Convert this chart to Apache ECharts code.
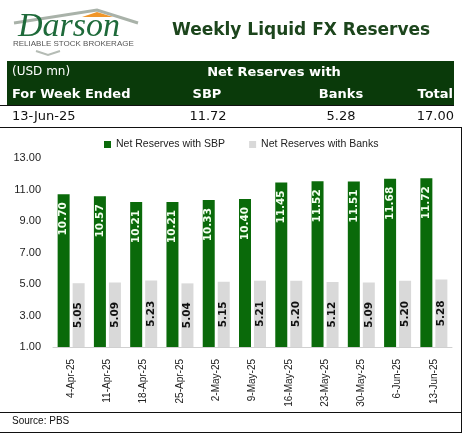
<!DOCTYPE html>
<html>
<head>
<meta charset="utf-8">
<script src="https://cdn.jsdelivr.net/npm/echarts@6/dist/echarts.min.js"></script>
<style>
html,body{margin:0;padding:0;background:#fff;}
#chart{width:464px;height:434px;}
</style>
</head>
<body>
<div id="chart"></div>
<script>
var categories = ['4-Apr-25','11-Apr-25','18-Apr-25','25-Apr-25','2-May-25','9-May-25','16-May-25','23-May-25','30-May-25','6-Jun-25','13-Jun-25'];
var sbpValues = [10.70,10.57,10.21,10.21,10.33,10.40,11.45,11.52,11.51,11.68,11.72];
var banksValues = [5.05,5.09,5.23,5.04,5.15,5.21,5.20,5.12,5.09,5.20,5.28];
var seriesNames = ['Net Reserves with SBP','Net Reserves with Banks'];
var yTicks = [1,3,5,7,9,11,13];
var latestWeek = '13-Jun-25';
var latestSBP = '11.72';
var latestBanks = '5.28';
var latestTotal = '17.00';

var GREEN = '#0a6a0a';
var DARK = '#0a3a0a';
var GRAY = '#d9d9d9';

var chart = echarts.init(document.getElementById('chart'));
var option = {
  backgroundColor: '#ffffff',
  animation: false,
  legend: {
    left: 99, top: 134,
    itemWidth: 7, itemHeight: 7, itemGap: 24,
    icon: 'rect',
    textStyle: {fontFamily: 'Liberation Sans', fontSize: 10.5, color: '#222'},
    data: seriesNames
  },
  grid: {left: 53, right: 12, top: 158, bottom: 87, containLabel: false},
  xAxis: {
    type: 'category', data: categories,
    axisLine: {lineStyle: {color: '#d0d0d0', width: 1}},
    axisTick: {show: false},
    axisLabel: {rotate: 90, fontFamily: 'Liberation Sans', fontSize: 10, color: '#222', margin: 12, interval: 0}
  },
  yAxis: {
    type: 'value', min: yTicks[0], max: yTicks[yTicks.length-1], interval: 2,
    splitLine: {show: false},
    axisLine: {show: false}, axisTick: {show: false},
    axisLabel: {fontFamily: 'Liberation Sans', fontSize: 11, color: '#222', margin: 12,
      formatter: function(v){return v.toFixed(2);}}
  },
  series: [
    {
      name: seriesNames[0], type: 'bar', data: sbpValues, barWidth: 12, barGap: '25%',
      itemStyle: {color: GREEN},
      label: {show: true, position: 'insideTop', distance: 8, rotate: 90, align: 'right', verticalAlign: 'middle',
        fontFamily: 'DejaVu Sans', fontWeight: 'bold', fontSize: 10.5, color: '#f4fff0',
        formatter: function(p){return p.value.toFixed(2);}}
    },
    {
      name: seriesNames[1], type: 'bar', data: banksValues, barWidth: 12,
      itemStyle: {color: GRAY},
      label: {show: true, position: 'inside', rotate: 90, align: 'center', verticalAlign: 'middle',
        fontFamily: 'DejaVu Sans', fontWeight: 'bold', fontSize: 10.5, color: '#111',
        formatter: function(p){return p.value.toFixed(2);}}
    }
  ],
  graphic: [
    // logo
    {type: 'polyline', shape: {points: [[14,23],[97,10],[138,23]]}, style: {stroke: '#a9b2a9', lineWidth: 3, fill: null}},
    {type: 'polygon', shape: {points: [[82,17],[97,12],[113,17]]}, style: {fill: '#f0962a'}},
    {type: 'text', left: 18, top: 10, style: {text: 'Darson', font: 'italic 34px "Liberation Serif"', fill: '#1e6a3a'}},
    {type: 'text', left: 13, top: 40, style: {text: 'RELIABLE STOCK BROKERAGE', font: '8px "Liberation Sans"', fill: '#555'}},
    {type: 'polyline', shape: {points: [[36,51],[48,55],[60,51]]}, style: {stroke: '#b5bcb5', lineWidth: 2, fill: null}},
    // title
    {type: 'text', x: 172, y: 31, style: {text: 'Weekly Liquid FX Reserves', font: 'bold 17px "DejaVu Sans"', fill: '#1c451c', textVerticalAlign: 'middle'}},
    // header band
    {type: 'rect', shape: {x: 7, y: 61, width: 447, height: 44}, style: {fill: DARK}},
    {type: 'text', x: 12, y: 72, style: {text: '(USD mn)', font: '12px "DejaVu Sans"', fill: '#fff', textVerticalAlign: 'middle'}},
    {type: 'text', x: 274, y: 73, style: {text: 'Net Reserves with', font: 'bold 13px "DejaVu Sans"', fill: '#fff', textAlign: 'center', textVerticalAlign: 'middle'}},
    {type: 'text', x: 12, y: 95, style: {text: 'For Week Ended', font: 'bold 13px "DejaVu Sans"', fill: '#fff', textVerticalAlign: 'middle'}},
    {type: 'text', x: 207, y: 95, style: {text: 'SBP', font: 'bold 13px "DejaVu Sans"', fill: '#fff', textAlign: 'center', textVerticalAlign: 'middle'}},
    {type: 'text', x: 341, y: 95, style: {text: 'Banks', font: 'bold 13px "DejaVu Sans"', fill: '#fff', textAlign: 'center', textVerticalAlign: 'middle'}},
    {type: 'text', x: 453, y: 95, style: {text: 'Total', font: 'bold 13px "DejaVu Sans"', fill: '#fff', textAlign: 'right', textVerticalAlign: 'middle'}},
    // row
    {type: 'text', x: 12, y: 117, style: {text: latestWeek, font: '13px "DejaVu Sans"', fill: '#111', textVerticalAlign: 'middle'}},
    {type: 'text', x: 208, y: 117, style: {text: latestSBP, font: '13px "DejaVu Sans"', fill: '#111', textAlign: 'center', textVerticalAlign: 'middle'}},
    {type: 'text', x: 341, y: 117, style: {text: latestBanks, font: '13px "DejaVu Sans"', fill: '#111', textAlign: 'center', textVerticalAlign: 'middle'}},
    {type: 'text', x: 454, y: 117, style: {text: latestTotal, font: '13px "DejaVu Sans"', fill: '#111', textAlign: 'right', textVerticalAlign: 'middle'}},
    // rules
    {type: 'line', shape: {x1: 0, y1: 105.5, x2: 454, y2: 105.5}, style: {stroke: '#111', lineWidth: 1}},
    {type: 'line', shape: {x1: 0, y1: 127.5, x2: 462, y2: 127.5}, style: {stroke: '#111', lineWidth: 1}},
    {type: 'line', shape: {x1: 461.5, y1: 127, x2: 461.5, y2: 433}, style: {stroke: '#111', lineWidth: 1}},
    {type: 'line', shape: {x1: 0, y1: 412.5, x2: 462, y2: 412.5}, style: {stroke: '#111', lineWidth: 1}},
    {type: 'line', shape: {x1: 0, y1: 432.5, x2: 462, y2: 432.5}, style: {stroke: '#111', lineWidth: 1}},
    {type: 'text', x: 12, y: 421, style: {text: 'Source: PBS', font: '10px "Liberation Sans"', fill: '#111', textVerticalAlign: 'middle'}}
  ]
};
chart.setOption(option);
</script>
</body>
</html>
